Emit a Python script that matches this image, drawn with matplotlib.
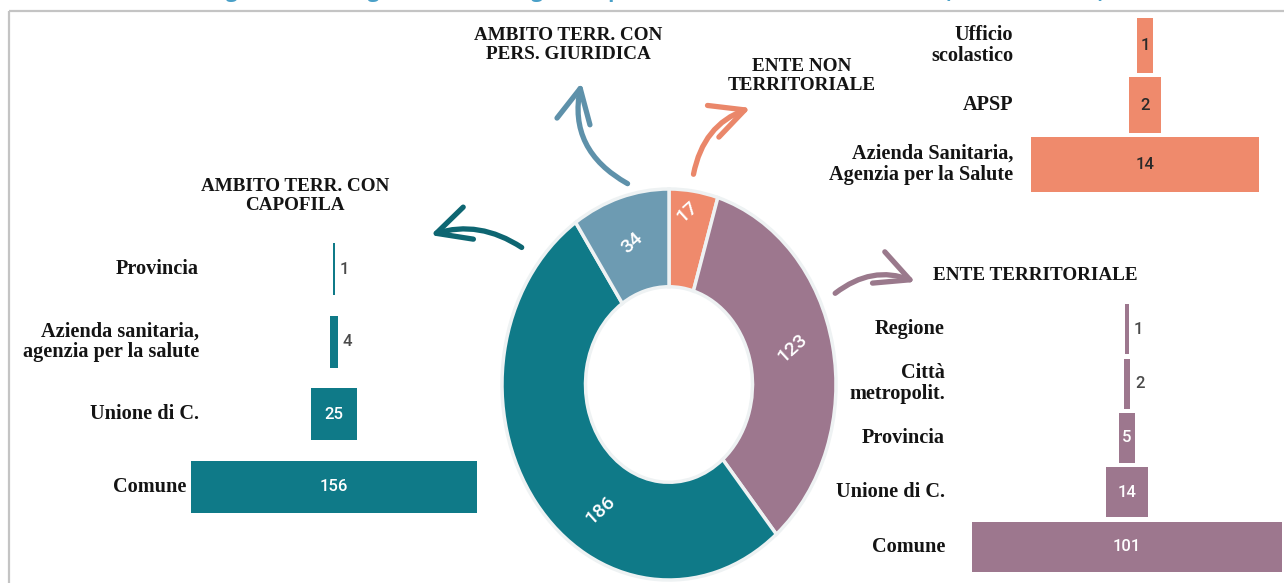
import numpy as np
from matplotlib import pyplot as plt
from matplotlib.patches import FancyArrowPatch, Rectangle

W, H = 1284, 583

# donut, clockwise from 12 o'clock
donut_names = ["ENTE NON\nTERRITORIALE", "ENTE TERRITORIALE",
               "AMBITO TERR. CON\nCAPOFILA", "AMBITO TERR. CON\nPERS. GIURIDICA"]
donut_values = [17, 123, 186, 34]
donut_colors = ["#ef8a6c", "#9d778e", "#0f7a88", "#6d9bb2"]

capofila_cats = ["Provincia", "Azienda sanitaria,\nagenzia per la salute", "Unione di C.", "Comune"]
capofila_vals = [1, 4, 25, 156]

terr_cats = ["Regione", "Città\nmetropolit.", "Provincia", "Unione di C.", "Comune"]
terr_vals = [1, 2, 5, 14, 101]

nonterr_cats = ["Ufficio\nscolastico", "APSP", "Azienda Sanitaria,\nAgenzia per la Salute"]
nonterr_vals = [1, 2, 14]

title = "Figura 3.12 – Organizzazione degli enti per ambito territoriale e natura (valori assoluti)"

SERIF = dict(fontfamily="Liberation Serif", fontweight="bold", fontsize=14.6, color="#141414")
HEAD = dict(SERIF, fontsize=13.8)
NUM = dict(fontfamily="Roboto", fontweight="medium", fontsize=12)

fig = plt.figure(figsize=(W / 100, H / 100), dpi=100)


def px_axes(x0, y0, x1, y1):
    return fig.add_axes([x0 / W, 1 - y1 / H, (x1 - x0) / W, (y1 - y0) / H])


# overlay in pixel coords for frame, arrows, headings
ov = px_axes(0, 0, W, H)
ov.set_xlim(0, W)
ov.set_ylim(H, 0)
ov.axis("off")
ov.add_patch(Rectangle((9, 11), W + 20, H + 20, fill=False, ec="#c4c4c4", lw=1.6, clip_on=False))
# title of the page, mostly cut off above the picture as in the source
fig.text(208 / W, 1 + 3 / H, title, color="#4aa0c8", fontfamily="Open Sans",
         fontweight="bold", fontsize=15, va="baseline")


def arrow(p0, p1, rad, color):
    a = FancyArrowPatch(p0, p1, connectionstyle=f"arc3,rad={rad}",
                        arrowstyle="->,head_length=1.1,head_width=0.55", mutation_scale=22,
                        color=color, lw=3.8, capstyle="round", joinstyle="round")
    ov.add_patch(a)


arrow((524, 249), (428, 236), 0.25, "#0e6672")
arrow((630, 185), (582, 80), -0.38, "#5e91aa")
arrow((693, 177), (753, 107), -0.3, "#ea876a")
arrow((833, 295), (918, 283), -0.3, "#9a798c")

ov.text(295, 196, donut_names[2], ha="center", va="center", linespacing=1.1, **HEAD)
ov.text(568, 45, donut_names[3], ha="center", va="center", linespacing=1.1, **HEAD)
ov.text(802, 76, donut_names[0], ha="center", va="center", linespacing=1.1, **HEAD)
ov.text(933, 276, donut_names[1], ha="left", va="center", **HEAD)

# donut (slightly taller than wide, as in the source)
dax = px_axes(502, 189, 836, 580)
wedges, _ = dax.pie(donut_values, colors=donut_colors, startangle=90, counterclock=False,
                    radius=1, wedgeprops=dict(width=0.5, edgecolor="#eef2f3", linewidth=2.5))
dax.set_aspect("auto")
dax.set_xlim(-1, 1)
dax.set_ylim(-1, 1)
dax.axis("off")
label_frac = [0.41, 0.48, 0.39, 0.5]
label_r = [0.89, 0.76, 0.76, 0.76]
for w, v, f, r in zip(wedges, donut_values, label_frac, label_r):
    ang = np.deg2rad(w.theta2 - f * (w.theta2 - w.theta1))
    dax.text(r * np.cos(ang), r * np.sin(ang), str(v), ha="center", va="center",
             rotation=42, color="white", fontfamily="Roboto", fontweight="medium", fontsize=14)


def pyramid(box, cx, scale, cats, vals, color, label_right, inner_color, bar_h):
    x0, y0, x1, y1 = box
    ax = px_axes(x0, y0, x1, y1)
    ax.set_xlim((x0 - cx) / scale, (x1 - cx) / scale)
    n = len(vals)
    ax.set_ylim(n - 0.5, -0.5)
    ax.axis("off")
    ys = np.arange(n)
    vals = np.array(vals)
    ax.barh(ys, vals, left=-vals / 2, height=bar_h, color=color)
    lab_x = (label_right - cx) / scale
    for y, c, v in zip(ys, cats, vals):
        lx = min(lab_x, -v / 2 - 5 / scale)
        ax.text(lx, y, c, ha="right", va="center", linespacing=1.05, **SERIF)
        if v * scale >= 14:
            ax.text(0, y, str(v), ha="center", va="center", color=inner_color, **NUM)
        else:
            ax.text(v / 2 + 5 / scale, y, str(v), ha="left", va="center", color="#4a4a4a", **NUM)


pyramid((20, 233, 520, 523), 334, 1.83, capofila_cats, capofila_vals,
        donut_colors[2], 199, "white", 0.72)
pyramid((840, 302, 1284, 574), 1127, 3.07, terr_cats, terr_vals,
        donut_colors[1], 945, "white", 0.92)
pyramid((840, 16, 1284, 194), 1145, 16.3, nonterr_cats, nonterr_vals,
        donut_colors[0], 1013, "#2a2a2a", 0.93)

fig.savefig("out.png", dpi=100)
